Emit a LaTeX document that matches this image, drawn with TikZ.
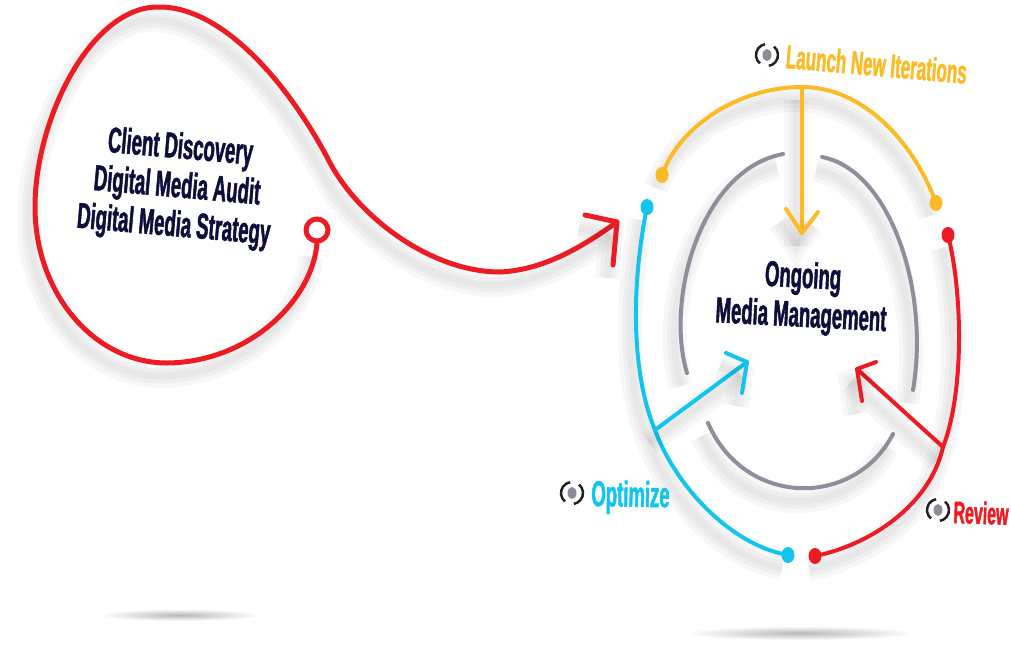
\documentclass[tikz,border=0pt]{standalone}
\usepackage{fontspec}
\newfontfamily\slimfont[FakeStretch=0.515, FakeBold=1.3]{Liberation Sans}
\usepackage{tikz}
\definecolor{loopred}{RGB}{237,28,36}
\definecolor{launch}{RGB}{253,186,39}
\definecolor{optim}{RGB}{20,196,240}
\definecolor{ringgray}{RGB}{142,142,156}
\definecolor{navy}{RGB}{14,14,60}
\definecolor{markblack}{RGB}{34,34,34}
\definecolor{markgray}{RGB}{140,140,152}
\usetikzlibrary{positioning}
\tikzset{%
  lifted/.style={preaction={draw=black, opacity=.03, line width=24,
      transform canvas={shift={(-6pt,-13pt)}}},
    preaction={draw=black, opacity=.03, line width=15,
      transform canvas={shift={(-6pt,-13pt)}}},
    preaction={draw=black, opacity=.03, line width=7,
      transform canvas={shift={(-6pt,-13pt)}}}},% soft shadow under a line
  loopline/.style={lifted, draw=loopred, line width=5, line cap=round, line join=round},
  cycline/.style={lifted, line width=4, line cap=round, line join=round},
  txt/.style={inner sep=0, font=\slimfont\bfseries\fontsize{36}{39}\selectfont},
  small/.style={font=\slimfont\bfseries\fontsize{33}{39}\selectfont},
  floor/.style={inner color=black!28, outer color=white}% shadow on the ground
}
\newcommand*{\marker}[1]{%
  \fill[markgray] (#1) ellipse (4.5 and 6);
  \draw[markblack, line width=2.5] ([shift={(-100:11)}]#1) arc[start angle=-100, end angle=-230, radius=11];
  \draw[markblack, line width=2.5] ([shift={(-50:11)}]#1) arc[start angle=-50, end angle=80, radius=11];}

\begin{document}
\begin{tikzpicture}[x=1pt, y=-1pt]
\useasboundingbox (0,0) rectangle (1011,654);
\shade[floor] (180,615) ellipse (80 and 6);
\shade[floor] (800,633) ellipse (115 and 7);

% first steps
\node[txt, navy, align=center, rotate=-5] (intro) at (177,188) {Client Discovery\\Digital Media Audit\\Digital Media Strategy};
\node[circle, draw=loopred, line width=5, minimum size=22, inner sep=0] (knot) at (317,230) {};
\coordinate (tipL) at (617,222);
\draw[loopline] (knot.south) .. controls (312,300) and (250,362) .. (167,363)
  .. controls (94,363) and (35,293) .. (35,207)
  .. controls (35,120) and (90,8) .. (157,7)
  .. controls (215,5) and (280,70) .. (327,157)
  .. controls (355,215) and (430,272) .. (500,272)
  .. controls (545,270) and (585,245) .. (tipL);
\draw[loopline] ([shift={(-32,-7)}]tipL) -- (tipL) -- ([shift={(-4,43)}]tipL);

% the cycle
\coordinate (ydotL) at (662,175);
\coordinate (ytop) at (802,87);
\coordinate (ydotR) at (936,203);
\coordinate (ytip) at (802,233);
\coordinate (bdot) at (647,207);
\coordinate (bfoot) at (655,430);
\coordinate (bdotB) at (788,555);
\coordinate (btip) at (747,362);
\coordinate (rdot) at (948,235);
\coordinate (rfoot) at (943,447);
\coordinate (rdotB) at (815,556);
\coordinate (rtip) at (857,369);

\draw[cycline, ringgray] (783,154) .. controls (700,170) and (665,300) .. (687,373);
\draw[cycline, ringgray] (822,157) .. controls (890,170) and (930,290) .. (913,390);
\draw[cycline, ringgray] (708,423) .. controls (745,508) and (855,508) .. (893,434);

\draw[cycline, launch] (ydotL) .. controls (680,125) and (740,87) .. (ytop)
  .. controls (865,87) and (915,145) .. (ydotR);
\draw[cycline, launch] (ytop) -- (ytip);
\draw[cycline, launch] ([shift={(-16,-24)}]ytip) -- (ytip) -- ([shift={(16,-21)}]ytip);
\fill[launch] (ydotL) ellipse (6.5 and 8);
\fill[launch] (ydotR) ellipse (6.5 and 8);

\draw[cycline, optim] (bdot) .. controls (632,280) and (630,370) .. (bfoot)
  .. controls (675,485) and (730,545) .. (bdotB);
\draw[cycline, optim] (bfoot) -- (btip);
\draw[cycline, optim] ([shift={(-21,-9)}]btip) -- (btip) -- ([shift={(-5,31)}]btip);
\fill[optim] (bdot) ellipse (6.5 and 8);
\fill[optim] (bdotB) ellipse (6.5 and 8);

\draw[cycline, loopred] (rdot) .. controls (962,290) and (965,390) .. (rfoot)
  .. controls (930,505) and (870,545) .. (rdotB);
\draw[cycline, loopred] (rfoot) -- (rtip);
\draw[cycline, loopred] ([shift={(19,-7)}]rtip) -- (rtip) -- ([shift={(5,32)}]rtip);
\fill[loopred] (rdot) ellipse (6.5 and 8);
\fill[loopred] (rdotB) ellipse (6.5 and 8);

\node[txt, navy, align=center, rotate=-3] (core) at (802,298) {Ongoing\\Media Management};

% stage names
\coordinate (mLaunch) at (767,55);
\coordinate (mOptim) at (572,493);
\coordinate (mReview) at (938,510);
\marker{mLaunch}
\marker{mOptim}
\marker{mReview}
\node[txt, small, launch, anchor=base west, rotate=-5] (launchtxt) at (785,68) {Launch New Iterations};
\node[txt, optim, anchor=base west, rotate=-1] (optimtxt) at (591,506) {Optimize};
\node[txt, loopred, anchor=base west, rotate=-2, font=\slimfont\bfseries\fontsize{31}{36}\selectfont] (reviewtxt) at (953,523) {Review};
\end{tikzpicture}
\end{document}
